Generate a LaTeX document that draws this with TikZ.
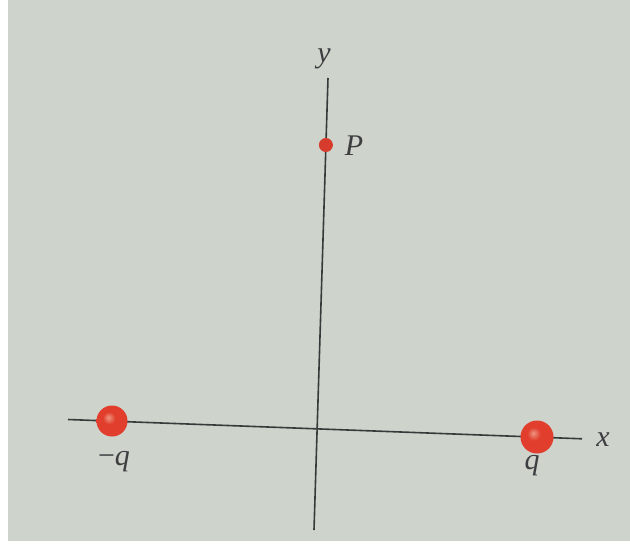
\documentclass[tikz,border=0pt]{standalone}
\usepackage{fontspec}
\setmainfont{Liberation Serif}
\definecolor{paper}{RGB}{206,211,204}
\definecolor{axisc}{RGB}{55,58,58}
\definecolor{chargec}{RGB}{225,62,45}
\definecolor{chargedk}{RGB}{200,50,38}
\definecolor{chargehi}{RGB}{238,150,130}
\definecolor{labelc}{RGB}{60,62,64}
\pgfdeclareradialshading{softball}{\pgfpoint{-6bp}{6bp}}{%
  color(0bp)=(chargehi); color(10bp)=(chargec); color(26bp)=(chargec);
  color(34bp)=(chargedk); color(50bp)=(chargedk)}
\tikzset{
  axisline/.style={draw=axisc, line width=1.6pt},
  charge/.style={circle, inner sep=0pt, minimum size=#1, shading=softball},
  pointdot/.style={circle, inner sep=0pt, minimum size=14pt, fill=chargec!95!black},
  lbl/.style={text=labelc, font=\fontsize{30}{34}\selectfont\itshape, inner sep=0pt}
}
\begin{document}
\begin{tikzpicture}[x=1pt,y=-1pt]
\useasboundingbox (0,0) rectangle (630,549);
\fill[white] (0,0) rectangle (630,549);
\fill[paper] (8,0) rectangle (630,541);
% axes
\coordinate (xl) at (68,419.5);
\coordinate (xr) at (582,438.8);
\coordinate (yt) at (328,78);
\coordinate (yb) at (314,530);
\draw[axisline] (xl) -- (xr);
\draw[axisline] (yt) -- (yb);
% charges and point
\node[charge=31pt] (qm) at (112,421) {};
\node[charge=33pt] (qp) at (537,437) {};
\node[pointdot] (P) at (325.9,145) {};
% labels
\node[lbl] (lqm) at (114,462) {{\upshape −}q};
\node[lbl] (lqp) at (532,466) {q};
\node[lbl] (lx) at (603,440) {x};
\node[lbl] (ly) at (324,59) {y};
\node[lbl] (lP) at (354,146) {P};
\end{tikzpicture}
\end{document}
